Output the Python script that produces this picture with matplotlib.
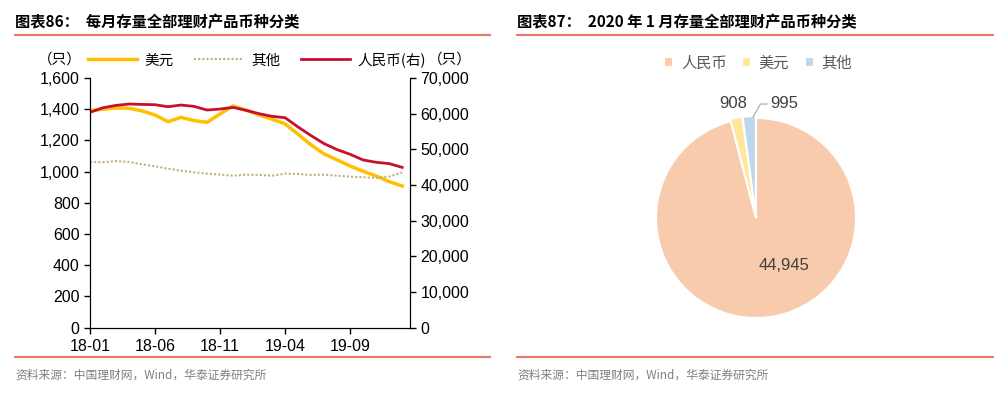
import numpy as np
import matplotlib
matplotlib.use("Agg")
import matplotlib.pyplot as plt
from matplotlib.lines import Line2D

plt.rcParams['font.family'] = ['Liberation Sans', 'Noto Sans CJK SC', 'DejaVu Sans']
CJK = ['Noto Sans CJK SC', 'DejaVu Sans']

# Monthly data, 2018-01 .. 2020-01
months = ["18-01", "18-02", "18-03", "18-04", "18-05", "18-06", "18-07", "18-08", "18-09",
          "18-10", "18-11", "18-12", "19-01", "19-02", "19-03", "19-04", "19-05", "19-06",
          "19-07", "19-08", "19-09", "19-10", "19-11", "19-12", "20-01"]
usd = [1391, 1400, 1408, 1406, 1389, 1363, 1320, 1348, 1327, 1316, 1370, 1421, 1395,
       1363, 1336, 1306, 1239, 1171, 1113, 1075, 1036, 1002, 972, 936, 908]
other = [1062, 1060, 1068, 1062, 1047, 1034, 1019, 1006, 996, 987, 981, 974, 981,
         979, 974, 987, 985, 979, 981, 974, 968, 964, 960, 968, 995]
rmb = [60370, 61670, 62320, 62700, 62600, 62510, 61950, 62420, 62040, 61020, 61300, 61760,
       60920, 59990, 59250, 58870, 56260, 53830, 51590, 49920, 48610, 47020, 46370, 46000, 44945]
tick_months = ["18-01", "18-06", "18-11", "19-04", "19-09"]

# Pie data, 2020-01
pie_labels = ["人民币", "美元", "其他"]
pie_values = [44945, 908, 995]

fig = plt.figure(figsize=(10.05, 3.99), dpi=100)

# ---- headers / footers
red_line = "#E8796B"
fig.text(15 / 1005, 1 - 22 / 399, "图表86：  每月存量全部理财产品币种分类", family=CJK,
         fontsize=11, fontweight='bold', va='center', ha='left')
fig.text(517 / 1005, 1 - 22 / 399, "图表87：  2020 年 1 月存量全部理财产品币种分类", family=CJK,
         fontsize=11, fontweight='bold', va='center', ha='left')
for x0, x1 in [(15, 490), (517, 993)]:
    for y in (35, 357):
        fig.add_artist(Line2D([x0 / 1005, x1 / 1005], [1 - y / 399, 1 - y / 399],
                              color=red_line, lw=1.5, transform=fig.transFigure))
    fig.text(x0 / 1005, 1 - 375 / 399, "资料来源：中国理财网，Wind，华泰证券研究所", family=CJK,
             fontsize=8.5, color="#808080", va='center', ha='left')

# ---- line chart
ax = fig.add_axes([90 / 1005, 1 - 327.7 / 399, 320 / 1005, (327.7 - 78) / 399])
ax2 = ax.twinx()
x = np.arange(len(months))
l1, = ax.plot(x, usd, color="#FFC000", lw=2.5)
l2, = ax.plot(x, other, color="#C4AE80", lw=1.5, ls=(0, (1, 1)))
l3, = ax2.plot(x, rmb, color="#C8102E", lw=2)
ax.set_xlim(0, len(months) - 0.4)
ax.set_ylim(0, 1600)
ax2.set_ylim(0, 70000)
ax.set_yticks(np.arange(0, 1601, 200))
ax2.set_yticks(np.arange(0, 70001, 10000))
ax.set_yticklabels([f"{v:,}" for v in range(0, 1601, 200)])
ax2.set_yticklabels([f"{v:,}" for v in range(0, 70001, 10000)])
ax.set_xticks([months.index(m) for m in tick_months])
ax.set_xticklabels(tick_months)
for a in (ax, ax2):
    a.spines['top'].set_visible(False)
    a.tick_params(labelsize=11.5, length=4, width=1, colors='black')
ax.tick_params(axis='x', pad=4)

fig.text(60 / 1005, 1 - 60 / 399, "（只）", family=CJK, fontsize=10.5, va='center', ha='center')
fig.text(450 / 1005, 1 - 60 / 399, "（只）", family=CJK, fontsize=10.5, va='center', ha='center')
leg = ax.legend([l1, l2, l3], ["美元", "其他", "人民币(右)"], ncol=3, frameon=False,
                loc='center', bbox_to_anchor=(257 / 1005, 1 - 60 / 399), bbox_transform=fig.transFigure,
                prop={'family': CJK, 'size': 10.5}, handlelength=3.4, columnspacing=1.4,
                handletextpad=0.5, borderaxespad=0)

# ---- pie chart
pax = fig.add_axes([(756 - 100) / 1005, 1 - 318 / 399, 200 / 1005, 200 / 399])
pie_colors = ["#F8CBAD", "#FFE699", "#BDD7EE"]
wedges, _ = pax.pie(pie_values, colors=pie_colors, startangle=90, counterclock=False,
                    explode=(0, 0.02, 0.02), wedgeprops=dict(edgecolor='white', linewidth=1.5))
for w in wedges:
    w.set_clip_on(False)
pax.set_xlim(-1.0, 1.0)
pax.set_ylim(-1.0, 1.0)
pax.set_aspect('equal')

lab_color = "#404040"
pax.text(0.28, -0.48, f"{pie_values[0]:,}", fontsize=12, color=lab_color, ha='center', va='center')
pax.text(-0.23, 1.14, f"{pie_values[1]:,}", fontsize=12, color=lab_color, ha='center', va='center',
         clip_on=False)
pax.annotate(f"{pie_values[2]:,}", xy=(-0.03, 1.01), xytext=(0.28, 1.14), fontsize=12,
             color=lab_color, ha='center', va='center', annotation_clip=False,
             arrowprops=dict(arrowstyle='-', color='#A6A6A6', lw=0.8,
                             connectionstyle='angle,angleA=0,angleB=60,rad=0', shrinkA=14, shrinkB=0))

fig.legend(wedges, pie_labels, ncol=3, frameon=False, loc='center',
           bbox_to_anchor=(758 / 1005, 1 - 63 / 399), prop={'family': CJK, 'size': 11},
           labelcolor="#595959", handlelength=0.6, handleheight=0.6, handletextpad=0.5,
           columnspacing=1.0, borderaxespad=0)

fig.savefig("out.png", dpi=100)
